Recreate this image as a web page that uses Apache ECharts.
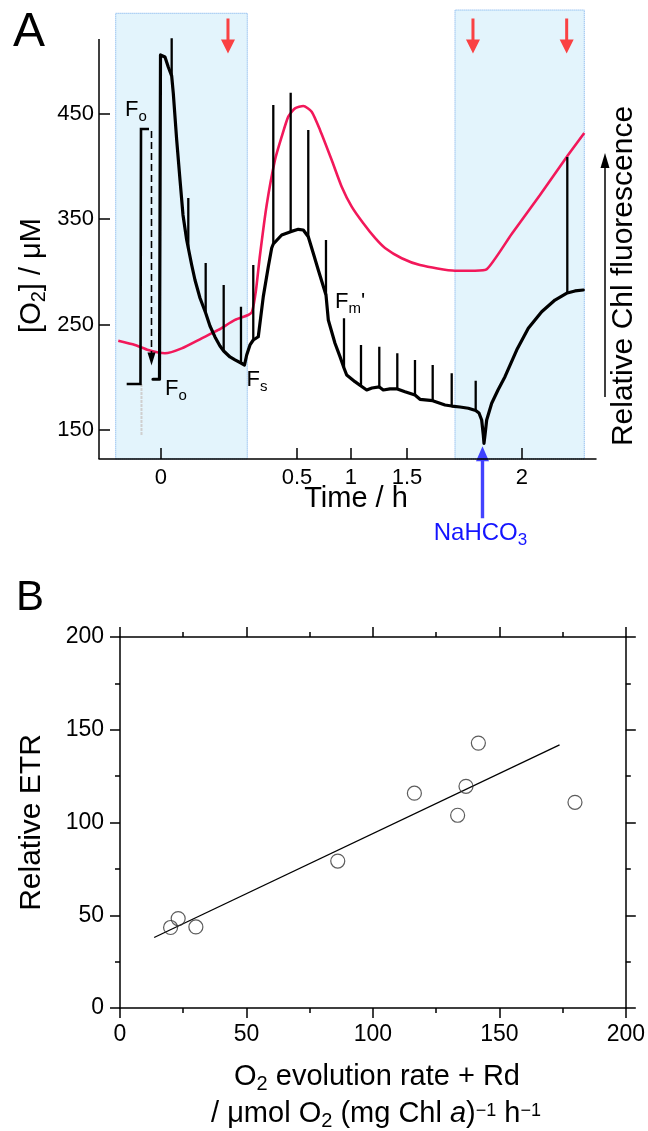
<!DOCTYPE html>
<html><head><meta charset="utf-8">
<script src="https://cdn.jsdelivr.net/npm/echarts@6/dist/echarts.min.js"></script>
<style>html,body{margin:0;padding:0;background:#fff}#c{width:648px;height:1131px}</style>
</head><body><div id="c"></div>
<script>
// ---------- Panel A data (x in axis position units; 0.5 unit = first half hour) ----------
const timeTickPos = [0, 0.5, 0.6985, 0.9044, 1.3272];
const timeTickLabels = ['0', '0.5', '1', '1.5', '2'];
const o2TickValues = [150, 250, 350, 450];

// black trace before Fo marker
const preT = [-0.1261, -0.0754, -0.0735, -0.0441];
const preV = [193.6, 193.6, 435.3, 435.3];

// main black O2 / fluorescence trace (without the saturation spikes)
const traceT = [-0.0294,-0.0055,-0.0018,0.0026,0.0147,0.0268,0.0393,0.0452,0.0577,0.0699,0.0809,0.0945,0.1004,0.1129,0.125,0.1434,0.1643,0.1801,0.1985,0.2169,0.2305,0.2537,0.2721,0.2941,0.307,0.3151,0.3272,0.3393,0.3577,0.3761,0.3945,0.407,0.4129,0.4438,0.4768,0.5048,0.5232,0.5415,0.5599,0.5783,0.6066,0.6151,0.6397,0.6581,0.6728,0.6827,0.7132,0.7353,0.7563,0.7757,0.8026,0.8173,0.8419,0.8688,0.8971,0.9338,0.9522,0.9989,1.0441,1.0688,1.0993,1.1298,1.157,1.1691,1.179,1.1849,1.1875,1.1912,1.1974,1.2158,1.239,1.2647,1.3077,1.3504,1.3996,1.4485,1.4938,1.5221,1.5526];
const traceV = [198.1,198.1,505.5,505.5,503.6,494.1,485.6,469.4,424.9,387.0,353.8,330.1,322.5,306.4,292.2,275.1,260.9,248.6,238.2,229.6,224.9,219.2,216.4,213.5,211.6,221.1,230.6,235.3,238.4,276.4,304.8,322.5,326.3,334.8,338.0,340.2,339.6,333.2,317.5,301.7,278.0,254.3,232.2,219.5,208.8,202.1,195.8,191.7,187.9,189.8,190.8,187.9,188.9,188.9,186.3,183.2,179.1,177.8,173.7,172.7,171.8,170.6,168.5,166.1,159.5,145.3,137.4,145.3,159.5,175.3,187.9,200.5,225.8,246.4,262.1,273.2,279.9,281.8,282.7];

// saturation pulse spikes
const spikeT    = [0.0393,0.1004,0.1643,0.2305,0.2941,0.3393,0.4129,0.4768,0.5415,0.6066,0.6728,0.7353,0.8026,0.8688,0.9338,0.9989,1.0688,1.157,1.4938];
const spikeBase = [485.6,322.5,260.9,224.9,213.5,235.3,326.3,338.0,333.2,278.0,208.8,191.7,190.8,188.9,183.2,177.8,172.7,168.5,279.9];
const spikeTop  = [521.3,369.9,308.3,287.4,266.9,306.4,458.1,469.7,434.4,330.1,255.9,230.6,229.0,222.7,216.4,211.6,203.7,196.7,408.8];

// red O2 curve
const redT = [-0.157,-0.0956,-0.0467,0.0147,0.0761,0.1496,0.2107,0.2721,0.321,0.3346,0.3493,0.364,0.3886,0.4191,0.4438,0.468,0.4926,0.5232,0.554,0.5846,0.6276,0.6643,0.7011,0.7438,0.7868,0.8235,0.8849,0.9522,1.0809,1.1544,1.1974,1.2893,1.3934,1.4915,1.5563];
const redV = [234.6,230.6,225.8,222.7,227.4,236.9,244.8,254.3,259.0,261.9,282.7,315.9,363.3,405.9,428.0,447.0,454.9,457.1,451.7,434.4,405.9,380.6,361.7,345.9,332.0,322.5,312.8,306.4,301.0,301.0,302.3,335.8,372.8,408.8,431.5];

// light periods (shaded)
const shadeStart = [-0.1665, 1.0809];
const shadeEnd   = [0.3173, 1.5563];
const shadeTop   = [545.0, 548.1];

// event markers
const redArrowT = [0.2463, 1.147, 1.4915];
const redArrowV = [523.5, 523.5, 523.5];
const nahco3T = [1.182];
const nahco3V = [100.4];
const foArrowT = [-0.0349, -0.0349];
const foArrowV = [433.4, 217.3];
const grayT = [-0.0717, -0.0717];
const grayV = [193.6, 144.3];

// axis ranges panel A
const xMinA = -0.2279, xMaxA = 1.5993, yMinA = 122.5, yMaxA = 548.1, yAxisTopA = 520.6;

// ---------- Panel B data ----------
const o2Rate = [20.0, 23.0, 30.0, 86.1, 116.4, 133.5, 136.8, 141.7, 179.9];
const relETR = [43.4, 48.2, 43.7, 79.2, 115.8, 103.9, 119.5, 142.8, 110.9];
const fitX = [13.5, 173.8];
const fitY = [38.0, 141.8];

const FONT = '"Liberation Sans", Arial, Helvetica, sans-serif';
const zip = (a, b) => a.map((v, i) => [v, b[i]]);

const spikeData = [];
spikeT.forEach((t, i) => { spikeData.push([t, spikeBase[i]], [t, spikeTop[i]], [t, '-']); });

const chart = echarts.init(document.getElementById('c'), null, {renderer: 'canvas'});

const axisLineStyle = {color: '#000', width: 1.5};
const T = (size, extra) => Object.assign({fontSize: size, fontFamily: FONT, fill: '#000'}, extra || {});

function txt(x, y, text, rich, size, rot, align) {
  return {type: 'text', x: x, y: y, rotation: rot || 0, silent: true, z: 100,
    style: {text: text, rich: rich, fontSize: size, fontFamily: FONT, fill: '#000',
      align: align || 'center', verticalAlign: 'middle'}};
}
const fRich = {m: T(22), s: T(15, {padding: [14, 0, 0, 0]})};

const option = {
  animation: false,
  backgroundColor: '#fff',
  grid: [
    {left: 99, top: 10, width: 497, height: 449},
    {left: 120, top: 637, width: 507, height: 371}
  ],
  xAxis: [
    {gridIndex: 0, type: 'value', min: xMinA, max: xMaxA, z: 10,
      axisLine: {show: true, onZero: false, lineStyle: axisLineStyle},
      axisTick: {show: true, customValues: timeTickPos, inside: true, length: 11, lineStyle: axisLineStyle},
      axisLabel: {show: true, customValues: timeTickPos, color: '#000', fontSize: 22, fontFamily: FONT, margin: 8,
        formatter: function (v) {
          let b = 0;
          for (let i = 1; i < timeTickPos.length; i++) if (Math.abs(timeTickPos[i] - v) < Math.abs(timeTickPos[b] - v)) b = i;
          return timeTickLabels[b];
        }},
      splitLine: {show: false}},
    {gridIndex: 1, type: 'value', min: 0, max: 200, interval: 50, position: 'bottom', z: 10,
      axisLine: {show: true, onZero: false, lineStyle: axisLineStyle},
      axisTick: {show: true, length: 10, lineStyle: axisLineStyle},
      minorTick: {show: true, splitNumber: 2, length: 5, lineStyle: axisLineStyle},
      axisLabel: {color: '#000', fontSize: 23, fontFamily: FONT, margin: 15},
      splitLine: {show: false}, minorSplitLine: {show: false}},
    {gridIndex: 1, type: 'value', min: 0, max: 200, interval: 50, position: 'top', z: 10,
      axisLine: {show: true, onZero: false, lineStyle: axisLineStyle},
      axisTick: {show: true, length: 10, lineStyle: axisLineStyle},
      minorTick: {show: true, splitNumber: 2, length: 5, lineStyle: axisLineStyle},
      axisLabel: {show: false},
      splitLine: {show: false}, minorSplitLine: {show: false}}
  ],
  yAxis: [
    {gridIndex: 0, type: 'value', min: yMinA, max: yMaxA, z: 10, position: 'left',
      axisLine: {show: false, onZero: false},
      axisTick: {show: true, customValues: o2TickValues, inside: true, length: 11, lineStyle: axisLineStyle},
      axisLabel: {show: true, customValues: o2TickValues, color: '#000', fontSize: 22, fontFamily: FONT, margin: 5},
      splitLine: {show: false}},
    {gridIndex: 1, type: 'value', min: 0, max: 200, interval: 50, position: 'left', z: 10,
      axisLine: {show: true, onZero: false, lineStyle: axisLineStyle},
      axisTick: {show: true, length: 10, lineStyle: axisLineStyle},
      minorTick: {show: true, splitNumber: 2, length: 5, lineStyle: axisLineStyle},
      axisLabel: {color: '#000', fontSize: 23, fontFamily: FONT, margin: 16},
      splitLine: {show: false}, minorSplitLine: {show: false}},
    {gridIndex: 1, type: 'value', min: 0, max: 200, interval: 50, position: 'right', z: 10,
      axisLine: {show: true, onZero: false, lineStyle: axisLineStyle},
      axisTick: {show: true, length: 10, lineStyle: axisLineStyle},
      minorTick: {show: true, splitNumber: 2, length: 5, lineStyle: axisLineStyle},
      axisLabel: {show: false},
      splitLine: {show: false}, minorSplitLine: {show: false}}
  ],
  series: [
    {name: 'shade', type: 'line', xAxisIndex: 0, yAxisIndex: 0, data: [], z: 1, silent: true,
      markArea: {silent: true,
        itemStyle: {color: '#e3f4fc', borderColor: '#6ea8ea', borderWidth: 1, borderType: 'dotted'},
        data: shadeStart.map((s, i) => [{coord: [s, yMinA]}, {coord: [shadeEnd[i], shadeTop[i]]}])}},
    {name: 'yAxisA', type: 'line', xAxisIndex: 0, yAxisIndex: 0, data: [[xMinA, yMinA], [xMinA, yAxisTopA]],
      symbol: 'none', clip: false, z: 6, lineStyle: {color: '#000', width: 1.5}, silent: true},
    {name: 'artifact', type: 'line', xAxisIndex: 0, yAxisIndex: 0, data: zip(grayT, grayV), symbol: 'none', z: 2,
      lineStyle: {color: '#cfcfcf', width: 2, type: [3, 1]}, silent: true},
    {name: 'O2', type: 'line', xAxisIndex: 0, yAxisIndex: 0, data: zip(redT, redV), symbol: 'none', smooth: 0.2, z: 3,
      lineStyle: {color: '#f2185a', width: 2.6}, silent: true},
    {name: 'pre', type: 'line', xAxisIndex: 0, yAxisIndex: 0, data: zip(preT, preV), symbol: 'none', z: 4,
      lineStyle: {color: '#000', width: 2.6, join: 'miter'}, silent: true},
    {name: 'fluorescence', type: 'line', xAxisIndex: 0, yAxisIndex: 0, data: zip(traceT, traceV), symbol: 'none', z: 4,
      lineStyle: {color: '#000', width: 3.2, join: 'round', cap: 'round'}, silent: true},
    {name: 'pulses', type: 'line', xAxisIndex: 0, yAxisIndex: 0, data: spikeData, symbol: 'none', connectNulls: false, z: 4,
      lineStyle: {color: '#000', width: 2.3}, silent: true},
    {name: 'foArrow', type: 'line', xAxisIndex: 0, yAxisIndex: 0, z: 4, silent: true,
      data: [{value: [foArrowT[0], foArrowV[0]], symbol: 'none'},
             {value: [foArrowT[1], foArrowV[1]], symbol: 'triangle', symbolRotate: 180, symbolSize: [8, 13]}],
      showSymbol: true, symbol: 'triangle', symbolKeepAspect: false,
      itemStyle: {color: '#000'},
      lineStyle: {color: '#000', width: 1.6, type: [7, 4]}},
    {name: 'lightArrows', type: 'scatter', xAxisIndex: 0, yAxisIndex: 0, z: 7, silent: true, clip: false,
      data: zip(redArrowT, redArrowV),
      symbol: 'path://M5.5,0L8.5,0L8.5,21L14,21L7,35L0,21L5.5,21Z', symbolSize: [14, 35], symbolKeepAspect: false,
      itemStyle: {color: '#ff1414'}},
    {name: 'nahco3', type: 'scatter', xAxisIndex: 0, yAxisIndex: 0, z: 7, silent: true, clip: false,
      data: zip(nahco3T, nahco3V),
      symbol: 'path://M0,15L6.5,0L13,15L8.2,15L8.2,72L4.8,72L4.8,15Z', symbolSize: [13, 72], symbolKeepAspect: false,
      itemStyle: {color: '#1414ff'}},
    {name: 'fit', type: 'line', xAxisIndex: 1, yAxisIndex: 1, data: zip(fitX, fitY), symbol: 'none', z: 3,
      lineStyle: {color: '#000', width: 1.3}, silent: true},
    {name: 'ETR', type: 'scatter', xAxisIndex: 1, yAxisIndex: 1, data: zip(o2Rate, relETR), z: 4, silent: true,
      symbol: 'circle', symbolSize: 14,
      itemStyle: {color: 'rgba(0,0,0,0)', borderColor: '#333', borderWidth: 1.2}}
  ],
  graphic: [
    txt(13, 32.5, 'A', null, 48, 0, 'left'),
    txt(16, 598, 'B', null, 42, 0, 'left'),
    txt(31.5, 275.5, '{m|[O}{s|2}{m|] / μM}', {m: T(29), s: T(20, {padding: [15, 0, 0, 0]})}, 29, Math.PI / 2),
    txt(356, 499, 'Time / h', null, 29),
    txt(624, 276, 'Relative Chl fluorescence', null, 30, Math.PI / 2),
    {type: 'line', silent: true, shape: {x1: 605, y1: 397, x2: 605, y2: 165}, style: {stroke: '#000', lineWidth: 1.5}},
    {type: 'polygon', silent: true, shape: {points: [[605, 153], [600.5, 168], [609.5, 168]]}, style: {fill: '#000'}},
    txt(125, 109.5, '{m|F}{s|o}', fRich, 22, 0, 'left'),
    txt(165, 389, '{m|F}{s|o}', fRich, 22, 0, 'left'),
    txt(246.5, 380, '{m|F}{s|s}', fRich, 22, 0, 'left'),
    txt(335, 301.5, "{m|F}{s|m}{m|'}", fRich, 22, 0, 'left'),
    txt(480.5, 533, '{m|NaHCO}{s|3}', {m: T(24, {fill: '#1414ff'}), s: T(17, {fill: '#1414ff', padding: [14, 0, 0, 0]})}, 24),
    txt(32, 822.5, 'Relative ETR', null, 30, Math.PI / 2),
    txt(377, 1076.7, '{m|O}{s|2}{m| evolution rate + Rd}', {m: T(29), s: T(20, {padding: [15, 0, 0, 0]})}, 29),
    txt(376, 1114, '{m|/ μmol O}{s|2}{m| (mg Chl }{i|a}{m|)}{p|−1}{m| h}{p|−1}',
      {m: T(29), i: T(29, {fontStyle: 'italic'}), s: T(20, {padding: [15, 0, 0, 0]}), p: T(18, {padding: [0, 0, 6, 0]})}, 29)
  ]
};
chart.setOption(option);
</script></body></html>
